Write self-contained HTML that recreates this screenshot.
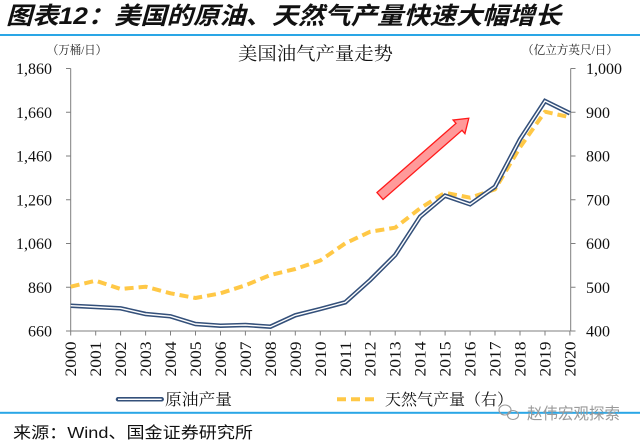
<!DOCTYPE html>
<html><head><meta charset="utf-8">
<style>
html,body{margin:0;padding:0;background:#fff;}
svg{display:block;}
</style></head>
<body>
<svg width="640" height="443" viewBox="0 0 640 443" xmlns="http://www.w3.org/2000/svg">
<rect width="640" height="443" fill="#fff"/>
<!-- header -->
<text x="6" y="24" font-family="Liberation Sans, Noto Sans CJK SC, sans-serif" font-size="24" font-weight="bold" font-style="italic" fill="#111" textLength="555" lengthAdjust="spacingAndGlyphs">图表12：美国的原油、天然气产量快速大幅增长</text>
<rect x="0" y="34" width="640" height="2" fill="#2aa6e6"/>

<!-- units & title -->
<text x="47" y="54" font-family="Liberation Serif, Noto Serif CJK SC, serif" font-size="12" fill="#222" textLength="60" lengthAdjust="spacingAndGlyphs">（万桶/日）</text>
<text x="522" y="54" font-family="Liberation Serif, Noto Serif CJK SC, serif" font-size="12" fill="#222" textLength="96" lengthAdjust="spacingAndGlyphs">（亿立方英尺/日）</text>
<text x="238" y="60" font-family="Liberation Serif, Noto Serif CJK SC, serif" font-size="18" fill="#111" textLength="155" lengthAdjust="spacingAndGlyphs">美国油气产量走势</text>

<!-- axes -->
<g stroke="#7f7f7f" stroke-width="1" fill="none">
<line x1="70.7" y1="68.5" x2="70.7" y2="331"/>
<line x1="570.7" y1="68.5" x2="570.7" y2="331"/>
<line x1="70.7" y1="331" x2="570.7" y2="331"/>
<!-- left ticks -->
<line x1="66" y1="68.5" x2="70.7" y2="68.5"/>
<line x1="66" y1="112.25" x2="70.7" y2="112.25"/>
<line x1="66" y1="156" x2="70.7" y2="156"/>
<line x1="66" y1="199.75" x2="70.7" y2="199.75"/>
<line x1="66" y1="243.5" x2="70.7" y2="243.5"/>
<line x1="66" y1="287.25" x2="70.7" y2="287.25"/>
<line x1="66" y1="331" x2="70.7" y2="331"/>
<!-- right ticks -->
<line x1="570.7" y1="68.5" x2="575.5" y2="68.5"/>
<line x1="570.7" y1="112.25" x2="575.5" y2="112.25"/>
<line x1="570.7" y1="156" x2="575.5" y2="156"/>
<line x1="570.7" y1="199.75" x2="575.5" y2="199.75"/>
<line x1="570.7" y1="243.5" x2="575.5" y2="243.5"/>
<line x1="570.7" y1="287.25" x2="575.5" y2="287.25"/>
<line x1="570.7" y1="331" x2="575.5" y2="331"/>
<!-- x ticks -->
<path d="M70.7 331v4.5M95.7 331v4.5M120.6 331v4.5M145.6 331v4.5M170.5 331v4.5M195.5 331v4.5M220.5 331v4.5M245.4 331v4.5M270.4 331v4.5M295.3 331v4.5M320.3 331v4.5M345.3 331v4.5M370.2 331v4.5M395.2 331v4.5M420.1 331v4.5M445.1 331v4.5M470.1 331v4.5M495 331v4.5M520 331v4.5M545 331v4.5M569.9 331v4.5"/>
</g>

<!-- left labels -->
<g font-family="Liberation Serif, serif" font-size="16" fill="#111" text-anchor="end">
<text x="52" y="74">1,860</text>
<text x="52" y="117.75">1,660</text>
<text x="52" y="161.5">1,460</text>
<text x="52" y="205.25">1,260</text>
<text x="52" y="249">1,060</text>
<text x="52" y="292.75">860</text>
<text x="52" y="336.5">660</text>
</g>
<!-- right labels -->
<g font-family="Liberation Serif, serif" font-size="16" fill="#111" text-anchor="start">
<text x="586" y="74">1,000</text>
<text x="586" y="117.75">900</text>
<text x="586" y="161.5">800</text>
<text x="586" y="205.25">700</text>
<text x="586" y="249">600</text>
<text x="586" y="292.75">500</text>
<text x="586" y="336.5">400</text>
</g>

<!-- x labels rotated -->
<g font-family="Liberation Serif, serif" font-size="16" fill="#111" text-anchor="end">
<text transform="translate(76.2,341.5) rotate(-90)" textLength="35" lengthAdjust="spacingAndGlyphs">2000</text>
<text transform="translate(101.2,341.5) rotate(-90)" textLength="35" lengthAdjust="spacingAndGlyphs">2001</text>
<text transform="translate(126.1,341.5) rotate(-90)" textLength="35" lengthAdjust="spacingAndGlyphs">2002</text>
<text transform="translate(151.1,341.5) rotate(-90)" textLength="35" lengthAdjust="spacingAndGlyphs">2003</text>
<text transform="translate(176,341.5) rotate(-90)" textLength="35" lengthAdjust="spacingAndGlyphs">2004</text>
<text transform="translate(201,341.5) rotate(-90)" textLength="35" lengthAdjust="spacingAndGlyphs">2005</text>
<text transform="translate(226,341.5) rotate(-90)" textLength="35" lengthAdjust="spacingAndGlyphs">2006</text>
<text transform="translate(250.9,341.5) rotate(-90)" textLength="35" lengthAdjust="spacingAndGlyphs">2007</text>
<text transform="translate(275.9,341.5) rotate(-90)" textLength="35" lengthAdjust="spacingAndGlyphs">2008</text>
<text transform="translate(300.8,341.5) rotate(-90)" textLength="35" lengthAdjust="spacingAndGlyphs">2009</text>
<text transform="translate(325.8,341.5) rotate(-90)" textLength="35" lengthAdjust="spacingAndGlyphs">2010</text>
<text transform="translate(350.8,341.5) rotate(-90)" textLength="35" lengthAdjust="spacingAndGlyphs">2011</text>
<text transform="translate(375.7,341.5) rotate(-90)" textLength="35" lengthAdjust="spacingAndGlyphs">2012</text>
<text transform="translate(400.7,341.5) rotate(-90)" textLength="35" lengthAdjust="spacingAndGlyphs">2013</text>
<text transform="translate(425.6,341.5) rotate(-90)" textLength="35" lengthAdjust="spacingAndGlyphs">2014</text>
<text transform="translate(450.6,341.5) rotate(-90)" textLength="35" lengthAdjust="spacingAndGlyphs">2015</text>
<text transform="translate(475.6,341.5) rotate(-90)" textLength="35" lengthAdjust="spacingAndGlyphs">2016</text>
<text transform="translate(500.5,341.5) rotate(-90)" textLength="35" lengthAdjust="spacingAndGlyphs">2017</text>
<text transform="translate(525.5,341.5) rotate(-90)" textLength="35" lengthAdjust="spacingAndGlyphs">2018</text>
<text transform="translate(550.5,341.5) rotate(-90)" textLength="35" lengthAdjust="spacingAndGlyphs">2019</text>
<text transform="translate(575.4,341.5) rotate(-90)" textLength="35" lengthAdjust="spacingAndGlyphs">2020</text>
</g>

<!-- gas dashed -->
<polyline fill="none" stroke="#ffc846" stroke-width="4" stroke-dasharray="9,5" stroke-linejoin="round"
points="70.7,286.7 95.7,280.7 120.6,289 145.6,286.7 170.5,293.3 195.5,298 220.5,293.3 245.4,285.3 270.4,275 295.3,269 320.3,260.5 345.3,243.3 370.2,231.7 395.2,227.7 420.1,208.3 445.1,192.7 470.1,197.7 495,189.3 520,147.3 545,111.7 569.9,117.3"/>

<!-- crude double line -->
<polyline fill="none" stroke="#34507a" stroke-width="4.5" stroke-linejoin="miter"
points="70.7,305.7 95.7,307 120.6,308.3 145.6,314 170.5,316.3 195.5,324 220.5,325.7 245.4,325 270.4,326.7 295.3,315.3 320.3,309 345.3,302.3 370.2,280 395.2,255 420.1,216.7 445.1,195.7 470.1,204.3 495,186.7 520,139.3 545,101 569.9,113.3"/>
<polyline fill="none" stroke="#ffffff" stroke-width="1.4" stroke-linejoin="miter"
points="70.7,305.7 95.7,307 120.6,308.3 145.6,314 170.5,316.3 195.5,324 220.5,325.7 245.4,325 270.4,326.7 295.3,315.3 320.3,309 345.3,302.3 370.2,280 395.2,255 420.1,216.7 445.1,195.7 470.1,204.3 495,186.7 520,139.3 545,101 569.9,113.3"/>

<!-- arrow -->
<g transform="translate(380,196) rotate(-41.2)">
<polygon points="0,-4.6 105,-4.6 105,-9 118,0 105,9 105,4.6 0,4.6" fill="#ff9a9a" stroke="#ff1a1a" stroke-width="1.3" stroke-linejoin="miter"/>
</g>

<!-- legend -->
<line x1="118" y1="399.3" x2="161.7" y2="399.3" stroke="#34507a" stroke-width="4.5" stroke-linecap="round"/>
<line x1="118" y1="399.3" x2="161.7" y2="399.3" stroke="#ffffff" stroke-width="1.4"/>
<text x="165" y="405" font-family="Liberation Serif, Noto Serif CJK SC, serif" font-size="16" fill="#111" textLength="67" lengthAdjust="spacingAndGlyphs">原油产量</text>
<line x1="337" y1="399.3" x2="377" y2="399.3" stroke="#ffc846" stroke-width="4" stroke-dasharray="9,5"/>
<text x="385" y="405" font-family="Liberation Serif, Noto Serif CJK SC, serif" font-size="16" fill="#111" textLength="128" lengthAdjust="spacingAndGlyphs">天然气产量（右）</text>

<!-- bottom line -->
<rect x="0" y="411.8" width="640" height="2" fill="#2aa6e6"/>

<!-- watermark -->
<g fill="none" stroke="#9a9a9a" stroke-width="1.1">
<ellipse cx="505" cy="410" rx="6" ry="5"/>
<ellipse cx="513" cy="415" rx="5.5" ry="4.5"/>
</g>
<text x="527" y="419" font-family="Liberation Sans, Noto Sans CJK SC, sans-serif" font-size="16" fill="#9a9a9a" textLength="93" lengthAdjust="spacingAndGlyphs">赵伟宏观探索</text>

<!-- source -->
<text x="13" y="438" font-family="Liberation Sans, Noto Sans CJK SC, sans-serif" font-size="16" fill="#111" textLength="240" lengthAdjust="spacingAndGlyphs">来源：Wind、国金证券研究所</text>
</svg>
</body></html>
